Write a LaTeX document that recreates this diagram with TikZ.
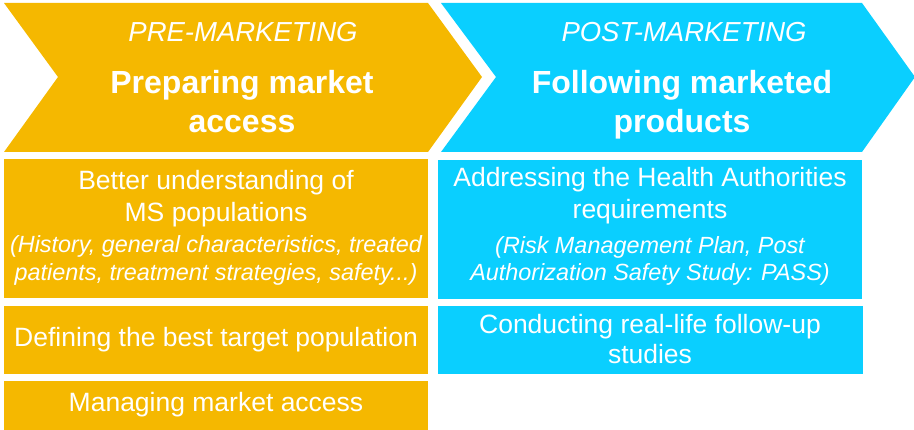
\documentclass[tikz,border=0pt]{standalone}
\usepackage{fontspec}
\setmainfont{Liberation Sans}
\definecolor{gold}{HTML}{F5B800}
\definecolor{sky}{HTML}{0ACFFF}
\begin{document}
\begin{tikzpicture}[x=1pt,y=-1pt,
  txt/.style={text=white, inner sep=0pt, anchor=base},
  body/.style={txt, font=\fontsize{26.5}{31.8}\selectfont},
  note/.style={txt, font=\fontsize{23.4}{28}\selectfont\itshape},
  head/.style={txt, font=\fontsize{27.5}{33}\selectfont\itshape},
  title/.style={txt, font=\fontsize{32}{38.4}\selectfont\bfseries},
  card/.style={draw=none, inner sep=0pt, outer sep=0pt, anchor=north west, minimum width=424pt}]
\useasboundingbox (0,0) rectangle (914,430);
% chevrons
\fill[gold] (4,3) -- (428,3) -- (482,77) -- (428,152) -- (4,152) -- (58,77) -- cycle;
\fill[sky] (441,3) -- (862,3) -- (915,77) -- (862,152) -- (441,152) -- (496,77) -- cycle;
% header texts
\node[head]  (preh) at (243,41.7) {PRE-MARKETING};
\node[title] (pret1) at (242,94) {Preparing market};
\node[title] (pret2) at (242,133) {access};
\node[head]  (posth) at (684,41.7) {POST-MARKETING};
\node[title] (postt1) at (682,94) {Following marketed};
\node[title] (postt2) at (682,133) {products};
% boxes
\node[card, fill=gold, minimum height=139pt] (o1) at (4,159) {};
\node[card, fill=gold, minimum height=68pt] (o2) at (4,306) {};
\node[card, fill=gold, minimum height=50pt] (o3) at (4,381) {};
\node[card, fill=sky, minimum height=139pt] (c1) at (438,160) {};
\node[card, fill=sky, minimum height=68pt, minimum width=425pt] (c2) at (438,306) {};
% box texts
\node[body] (o1a) at (216,190) {Better understanding of};
\node[body] (o1b) at (216,221.7) {MS populations};
\node[note] (o1c) at (216,253) {(History, general characteristics, treated};
\node[note] (o1d) at (216,280.7) {patients, treatment strategies, safety...)};
\node[body] (o2a) at (216,346.7) {Defining the best target population};
\node[body] (o3a) at (216,411.7) {Managing market access};
\node[body] (c1a) at (650,186.7) {Addressing the Health Authorities};
\node[body] (c1b) at (650,218.3) {requirements};
\node[note] (c1c) at (650,253.3) {(Risk Management Plan, Post};
\node[note] (c1d) at (650,280.7) {Authorization Safety Study: PASS)};
\node[body] (c2a) at (650,333.3) {Conducting real-life follow-up};
\node[body] (c2b) at (650,363.3) {studies};
\end{tikzpicture}
\end{document}
